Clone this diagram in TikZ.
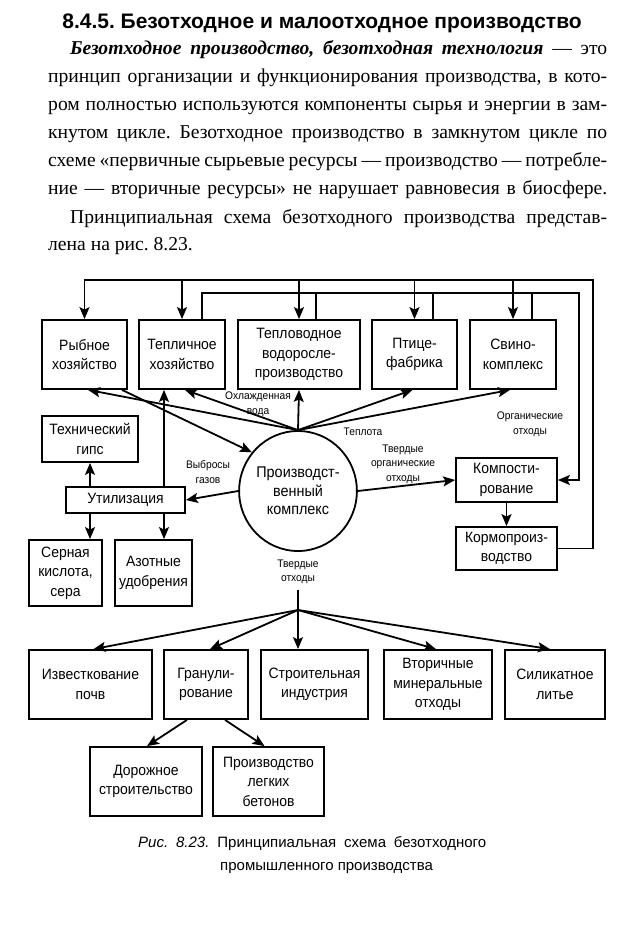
\documentclass[tikz,border=0pt]{standalone}
\usepackage{fontspec}
\setmainfont{Liberation Serif}
\setsansfont{Liberation Sans}
\newfontfamily\diagfont{Liberation Sans}[FakeStretch=0.93]
\usetikzlibrary{shapes.geometric,arrows.meta}
\frenchspacing
\begin{document}
\begin{tikzpicture}[x=1pt,y=-1pt,
  box/.style={draw,line width=1.8pt,align=center,inner sep=0pt,
    font=\diagfont\fontsize{15}{19.5}\selectfont},
  lbl/.style={align=center,inner sep=0pt,font=\diagfont\fontsize{11}{14.5}\selectfont},
  con/.style={line width=1.8pt},
  arr/.style={con,-{Stealth[length=12pt,width=10pt,inset=2.5pt]}},
  body/.style={anchor=base west,inner sep=0pt,font=\fontsize{19.6}{28}\selectfont},
  capt/.style={anchor=base west,inner sep=0pt,font=\sffamily\fontsize{15}{19}\selectfont},
]
\fill[white] (0,0) rectangle (624,925);
\useasboundingbox (0,0) rectangle (624,925);

% ---- text ----
\node[anchor=base,inner sep=0pt,font=\sffamily\bfseries\fontsize{21}{24}\selectfont] (head) at (322,29)
  {8.4.5. Безотходное и малоотходное производство};
\node[body] (l1) at (70,55) {\makebox[537pt][s]{\textbf{\textit{Безотходное производство, безотходная технология}} — это}};
\node[body] (l2) at (48,83) {\makebox[559pt][s]{принцип организации и функционирования производства, в кото-}};
\node[body] (l3) at (48,111) {\makebox[559pt][s]{ром полностью используются компоненты сырья и энергии в зам-}};
\node[body] (l4) at (48,139) {\makebox[559pt][s]{кнутом цикле. Безотходное производство в замкнутом цикле по}};
\node[body] (l5) at (48,167) {\makebox[559pt][s]{схеме «первичные сырьевые ресурсы — производство — потребле-}};
\node[body] (l6) at (48,195) {\makebox[559pt][s]{ние — вторичные ресурсы» не нарушает равновесия в биосфере.}};
\node[body] (l7) at (70,223) {\makebox[537pt][s]{Принципиальная схема безотходного производства представ-}};
\node[body] (l8) at (48,251) {лена на рис. 8.23.};

% ---- boxes ----
\node[box,minimum width=85,minimum height=69] (ryb) at (84.5,354.5) {Рыбное\\хозяйство};
\node[box,minimum width=86,minimum height=69] (tepl) at (182,354.5) {Тепличное\\хозяйство};
\node[box,minimum width=122,minimum height=69] (teplovod) at (299,354.5) {Тепловодное\\водоросле-\\производство};
\node[box,minimum width=85,minimum height=69] (ptice) at (414.5,354.5) {Птице-\\фабрика};
\node[box,minimum width=86,minimum height=69] (svino) at (513,354.5) {Свино-\\комплекс};
\node[box,minimum width=96,minimum height=46] (gips) at (90,439) {Технический\\гипс};
\node[box,minimum width=119,minimum height=26] (util) at (125.5,500) {Утилизация};
\node[box,minimum width=73,minimum height=66] (serna) at (65.5,573) {Серная\\кислота,\\сера};
\node[box,minimum width=77,minimum height=66] (azot) at (153.5,573) {Азотные\\удобрения};
\node[box,ellipse,minimum width=112,minimum height=120,font=\diagfont\fontsize{15.5}{18.5}\selectfont] (prod) at (298,491) {Производст-\\венный\\комплекс};
\node[box,minimum width=101,minimum height=44] (komp) at (506.5,480) {Компости-\\рование};
\node[box,minimum width=101,minimum height=43] (kormo) at (506.5,548.5) {Кормопроиз-\\водство};
\node[box,minimum width=123,minimum height=69] (izv) at (90.5,684.5) {Известкование\\почв};
\node[box,minimum width=84,minimum height=69] (gran) at (206,684.5) {Гранули-\\рование};
\node[box,minimum width=107,minimum height=69] (stroi) at (314.5,684.5) {Строительная\\индустрия};
\node[box,minimum width=108,minimum height=69] (vtor) at (438,684.5) {Вторичные\\минеральные\\отходы};
\node[box,minimum width=100,minimum height=69] (silik) at (555,684.5) {Силикатное\\литье};
\node[box,minimum width=112,minimum height=69] (dor) at (146,781.5) {Дорожное\\строительство};
\node[box,minimum width=111,minimum height=69] (legk) at (268.5,781.5) {Производство\\легких\\бетонов};

% ---- labels ----
\node[lbl] (lw) at (258,404.5) {Охлажденная\\вода};
\node[lbl] (lt) at (363,432) {Теплота};
\node[lbl] (lo) at (530,424.5) {Органические\\отходы};
\node[lbl] (lto) at (403,464) {Твердые\\органические\\отходы};
\node[lbl] (lg) at (208,472) {Выбросы\\газов};
\node[lbl] (ltv) at (298,572) {Твердые\\отходы};

% ---- caption ----
\node[capt] (cap1) at (138,847) {\makebox[348pt][s]{\textit{Рис. 8.23.} Принципиальная схема безотходного}};
\node[capt] (cap2) at (220,870) {промышленного производства};

% ---- outer loop (feed) ----
\coordinate (oR) at (593,280);
\draw[arr] (kormo.east) -| (oR) -| (ryb.north);
\foreach \n in {tepl,teplovod,ptice,svino}
  \draw[arr] (\n.north |- oR) -- (\n.north);

% ---- inner loop (organic waste) ----
\coordinate (iR) at (579,293);
\draw[arr] ([xshift=20]tepl.north) |- (iR) |- (komp.east);
\foreach \n/\d in {teplovod/17,ptice/18.5,svino/19}
  \draw[con] ([xshift=\d]\n.north) -- ([xshift=\d]\n.north |- iR);

% ---- from production complex ----
\draw[arr] (prod.north) -- ([xshift=3.5]ryb.south);
\draw[arr] (prod.north) -- ([xshift=3]tepl.south);
\draw[arr] (prod.north) -- (teplovod.south);
\draw[arr] (prod.north) -- ([xshift=-2]ptice.south);
\draw[arr] (prod.north) -- ([xshift=-3]svino.south);
\draw[arr] ([xshift=37.5]ryb.south) -- (prod.140);
\draw[arr] (prod.west) -- (util.east);
\draw[arr] (prod.east) -- (komp.west);
\draw[arr] (komp.south) -- (kormo.north);

% ---- utilisation ----
\draw[arr] (util.north -| gips.south) -- (gips.south);
\draw[arr] ([xshift=38.5]util.north) -- ([xshift=38.5]util.north |- tepl.south);
\draw[arr] ([xshift=-35.5]util.south) -- ([xshift=-35.5]util.south |- serna.north);
\draw[arr] ([xshift=38.5]util.south) -- ([xshift=38.5]util.south |- azot.north);

% ---- solid waste ----
\coordinate (tv) at (298,590);
\coordinate (br) at (298,610);
\draw[con] (tv) -- (br);
\draw[arr] (br) -- ([xshift=3]izv.north);
\draw[arr] (br) -- ([xshift=4]gran.north);
\draw[arr] (br) -- (br |- stroi.north);
\draw[arr] (br) -- ([xshift=-2]vtor.north);
\draw[arr] (br) -- ([xshift=-5]silik.north);
\draw[arr] ([xshift=-19]gran.south) -- ([xshift=1]dor.north);
\draw[arr] ([xshift=19]gran.south) -- ([xshift=-4]legk.north);
\end{tikzpicture}
\end{document}
